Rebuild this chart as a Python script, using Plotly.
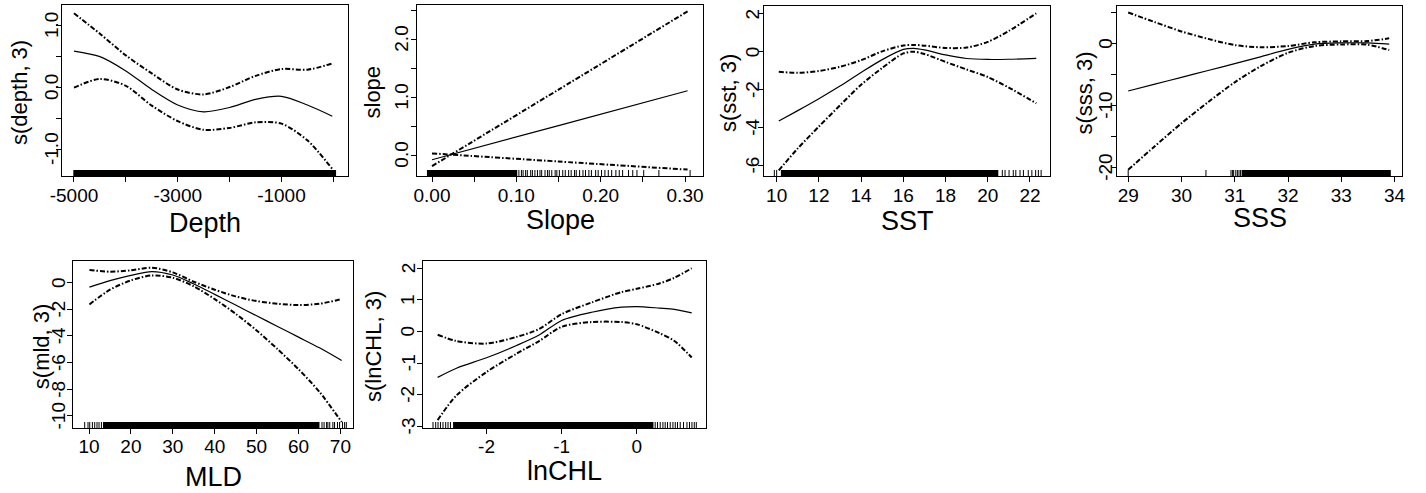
import plotly.graph_objects as go

W, H = 1426, 493

# ---------------- data ----------------
depth_x = [-5000, -4500, -4000, -3500, -3000, -2500, -2000, -1500, -1000, -500, -20]
depth_fit = [0.58, 0.49, 0.26, -0.04, -0.29, -0.40, -0.33, -0.20, -0.15, -0.29, -0.47]
depth_up = [1.19, 0.86, 0.51, 0.22, -0.04, -0.12, 0.00, 0.18, 0.29, 0.28, 0.38]
depth_lo = [-0.01, 0.13, 0.02, -0.30, -0.55, -0.69, -0.66, -0.57, -0.59, -0.86, -1.32]
depth_rug_bands = [[-5013, 53]]
depth_rug_ticks = []

slope_x = [0.0, 0.15, 0.303]
slope_fit = [-0.08, 0.51, 1.11]
slope_up = [-0.19, 1.13, 2.48]
slope_lo = [0.03, -0.11, -0.25]
slope_rug_bands = [[-0.006, 0.101]]
slope_rug_ticks = [0.103, 0.106, 0.108, 0.111, 0.113, 0.117, 0.119, 0.122, 0.125, 0.128,
                   0.130, 0.134, 0.137, 0.139, 0.142, 0.146, 0.148, 0.151, 0.155, 0.158,
                   0.162, 0.165, 0.169, 0.171, 0.175, 0.179, 0.182, 0.186, 0.189, 0.194,
                   0.197, 0.201, 0.205, 0.209, 0.213, 0.218, 0.222, 0.226, 0.233, 0.238,
                   0.243, 0.251, 0.269, 0.306]

sst_x = [10.1, 11, 12, 13, 14, 15, 16, 16.5, 17, 18, 19, 20, 21, 22.3]
sst_fit = [-3.67, -3.12, -2.49, -1.82, -1.10, -0.42, 0.12, 0.18, 0.10, -0.17, -0.36, -0.41, -0.40, -0.35]
sst_up = [-1.06, -1.12, -1.02, -0.80, -0.45, 0.02, 0.33, 0.36, 0.32, 0.20, 0.22, 0.52, 1.10, 2.03]
sst_lo = [-6.28, -5.12, -3.96, -2.84, -1.75, -0.86, -0.09, 0.00, -0.12, -0.54, -0.94, -1.34, -1.90, -2.73]
sst_rug_bands = [[10.2, 20.5]]
sst_rug_ticks = [9.89, 10.0, 20.69, 20.82, 21.01, 21.21, 21.33, 21.53, 21.69, 21.92, 22.09, 22.27, 22.40, 22.53]

sss_x = [29, 29.5, 30, 30.5, 31, 31.5, 32, 32.5, 33, 33.5, 33.9]
sss_fit = [-7.7, -6.6, -5.5, -4.4, -3.3, -2.15, -1.0, -0.15, 0.05, 0.05, -0.16]
sss_up = [4.95, 3.4, 1.9, 0.7, -0.3, -0.65, -0.45, 0.15, 0.3, 0.35, 0.8]
sss_lo = [-20.4, -16.6, -12.9, -9.5, -6.3, -3.65, -1.55, -0.45, -0.2, -0.25, -1.1]
sss_rug_bands = [[31.13, 33.93]]
sss_rug_ticks = [29.0, 30.46, 30.93, 30.96, 30.98, 31.02, 31.05, 31.08, 31.11]

mld_x = [10.1, 15, 20, 25, 30, 35, 40, 45, 50, 55, 60, 65, 70.3]
mld_fit = [-0.36, 0.13, 0.53, 0.81, 0.55, -0.12, -0.90, -1.70, -2.50, -3.30, -4.10, -4.90, -5.85]
mld_up = [0.93, 0.80, 0.90, 1.10, 0.75, 0.05, -0.55, -1.05, -1.40, -1.60, -1.70, -1.60, -1.25]
mld_lo = [-1.65, -0.55, 0.15, 0.52, 0.35, -0.30, -1.25, -2.35, -3.60, -5.00, -6.50, -8.20, -10.45]
mld_rug_bands = [[13.34, 65.0]]
mld_rug_ticks = [8.97, 9.76, 10.17, 10.81, 11.36, 11.91, 12.39, 12.96, 65.6, 66.1, 66.7, 67.0,
                 67.45, 68.2, 68.6, 69.3, 69.8, 70.5, 71.0, 71.4]

chl_x = [-2.65, -2.4, -2.0, -1.6, -1.3, -1.0, -0.6, -0.2, 0.0, 0.3, 0.5, 0.73]
chl_fit = [-1.45, -1.16, -0.83, -0.44, -0.11, 0.35, 0.61, 0.77, 0.79, 0.74, 0.70, 0.59]
chl_up = [-0.10, -0.30, -0.38, -0.17, 0.08, 0.55, 0.92, 1.25, 1.35, 1.52, 1.70, 2.00]
chl_lo = [-2.80, -2.02, -1.28, -0.70, -0.30, 0.15, 0.30, 0.30, 0.23, -0.05, -0.30, -0.82]
chl_rug_bands = [[-2.445, 0.221]]
chl_rug_ticks = [-2.712, -2.676, -2.645, -2.613, -2.579, -2.543, -2.512, -2.48,
                 0.244, 0.275, 0.311, 0.347, 0.377, 0.408, 0.444, 0.480, 0.511, 0.541,
                 0.577, 0.621, 0.667, 0.701, 0.733, 0.764, 0.791]

x_titles = ["Depth", "Slope", "SST", "SSS", "MLD", "lnCHL"]
y_titles = ["s(depth, 3)", "slope", "s(sst, 3)", "s(sss, 3)", "s(mld, 3)", "s(lnCHL, 3)"]

depth_xticks = [-5000, -4000, -3000, -2000, -1000, 0]
depth_xlabels = ["-5000", "", "-3000", "", "-1000", ""]
depth_yticks = [-1.0, -0.5, 0.0, 0.5, 1.0]
depth_ylabels = ["-1.0", "", "0.0", "", "1.0"]
slope_xticks = [0.0, 0.05, 0.10, 0.15, 0.20, 0.25, 0.30]
slope_xlabels = ["0.00", "", "0.10", "", "0.20", "", "0.30"]
slope_yticks = [0.0, 0.5, 1.0, 1.5, 2.0, 2.5]
slope_ylabels = ["0.0", "", "1.0", "", "2.0", ""]
sst_xticks = [10, 12, 14, 16, 18, 20, 22]
sst_xlabels = ["10", "12", "14", "16", "18", "20", "22"]
sst_yticks = [-6, -4, -2, 0, 2]
sst_ylabels = ["-6", "-4", "-2", "0", "2"]
sss_xticks = [29, 30, 31, 32, 33, 34]
sss_xlabels = ["29", "30", "31", "32", "33", "34"]
sss_yticks = [-20, -15, -10, -5, 0, 5]
sss_ylabels = ["-20", "", "-10", "", "0", ""]
mld_xticks = [10, 20, 30, 40, 50, 60, 70]
mld_xlabels = ["10", "20", "30", "40", "50", "60", "70"]
mld_yticks = [-10, -8, -6, -4, -2, 0]
mld_ylabels = ["-10", "-8", "-6", "-4", "-2", "0"]
chl_xticks = [-2, -1, 0]
chl_xlabels = ["-2", "-1", "0"]
chl_yticks = [-3, -2, -1, 0, 1, 2]
chl_ylabels = ["-3", "-2", "-1", "0", "1", "2"]

# ---------------- layout settings ----------------
FONT = "Liberation Sans, Arial, sans-serif"
TICK_FS = 19
XT_FS = 27
YT_FS = 22
CI_DASH = "5px,2px,1.5px,2px"

panels = [
    dict(x=depth_x, fit=depth_fit, up=depth_up, lo=depth_lo, bands=depth_rug_bands, ticks=depth_rug_ticks,
         xt=(depth_xticks, depth_xlabels), yt=(depth_yticks, depth_ylabels),
         box=(62, 348, 5, 176), xr=[-5231, 283], yr=[-1.435, 1.323], xtitle_y=232, ytitle_x=19.5,
         ylab_x=50, xsoff=-3),
    dict(x=slope_x, fit=slope_fit, up=slope_up, lo=slope_lo, bands=slope_rug_bands, ticks=slope_rug_ticks,
         xt=(slope_xticks, slope_xlabels), yt=(slope_yticks, slope_ylabels),
         box=(417, 703, 5, 176), xr=[-0.0178, 0.3213], yr=[-0.36, 2.59], xtitle_y=229.5, ytitle_x=372,
         ylab_x=400.5, xsoff=-3),
    dict(x=sst_x, fit=sst_fit, up=sst_up, lo=sst_lo, bands=sst_rug_bands, ticks=sst_rug_ticks,
         xt=(sst_xticks, sst_xlabels), yt=(sst_yticks, sst_ylabels),
         box=(764, 1050, 6, 176), xr=[9.40, 22.95], yr=[-6.58, 2.42], xtitle_y=230, ytitle_x=728,
         ylab_x=751.5, xsoff=-3),
    dict(x=sss_x, fit=sss_fit, up=sss_up, lo=sss_lo, bands=sss_rug_bands, ticks=sss_rug_ticks,
         xt=(sss_xticks, sss_xlabels), yt=(sss_yticks, sss_ylabels),
         box=(1117, 1402, 6, 176), xr=[28.79, 34.14], yr=[-21.4, 6.0], xtitle_y=227, ytitle_x=1083.5,
         ylab_x=1104.5, xsoff=-3),
    dict(x=mld_x, fit=mld_fit, up=mld_up, lo=mld_lo, bands=mld_rug_bands, ticks=mld_rug_ticks,
         xt=(mld_xticks, mld_xlabels), yt=(mld_yticks, mld_ylabels),
         box=(73, 353, 261, 428), xr=[6.18, 73.0], yr=[-10.9, 1.6], xtitle_y=486.5, ytitle_x=41.7,
         ylab_x=57.5, xsoff=-4),
    dict(x=chl_x, fit=chl_fit, up=chl_up, lo=chl_lo, bands=chl_rug_bands, ticks=chl_rug_ticks,
         xt=(chl_xticks, chl_xlabels), yt=(chl_yticks, chl_ylabels),
         box=(423, 706, 261, 428), xr=[-2.845, 0.92], yr=[-3.05, 2.23], xtitle_y=480, ytitle_x=373.5,
         ylab_x=407, xsoff=-4),
]

fig = go.Figure()
layout = dict(width=W, height=H, margin=dict(l=0, r=0, t=0, b=0),
              paper_bgcolor="white", plot_bgcolor="white", showlegend=False,
              font=dict(family=FONT, color="black", size=TICK_FS))
shapes = []
annotations = []

for i, p in enumerate(panels):
    n = i + 1
    xa = "x" if n == 1 else f"x{n}"
    ya = "y" if n == 1 else f"y{n}"
    L, R, T, B = p["box"]
    common = dict(showline=True, mirror=True, linecolor="black", linewidth=1,
                  ticks="outside", ticklen=5, tickwidth=1, tickcolor="black",
                  showgrid=False, zeroline=False, tickmode="array", automargin=False,
                  tickfont=dict(family=FONT, size=TICK_FS, color="black"))
    xaxis = dict(common)
    xaxis.update(domain=[L / W, R / W], range=p["xr"], anchor=ya,
                 tickvals=p["xt"][0], ticktext=p["xt"][1], ticklabelstandoff=p["xsoff"])
    yaxis = dict(common)
    yaxis.update(domain=[1 - B / H, 1 - T / H], range=p["yr"], anchor=xa,
                 tickvals=p["yt"][0], ticktext=p["yt"][1], showticklabels=False)
    layout["xaxis" if n == 1 else f"xaxis{n}"] = xaxis
    layout["yaxis" if n == 1 else f"yaxis{n}"] = yaxis

    for key, dash, wid in (("up", CI_DASH, 2.0), ("lo", CI_DASH, 2.0), ("fit", "solid", 1.2)):
        fig.add_trace(go.Scatter(x=p["x"], y=p[key], mode="lines", xaxis=xa, yaxis=ya,
                                 line=dict(color="black", width=wid, dash=dash, shape="spline", smoothing=0.8),
                                 hoverinfo="skip"))

    rug_h = 6.0 / (B - T)
    yref = f"{ya} domain"
    for b0, b1 in p["bands"]:
        shapes.append(dict(type="rect", xref=xa, yref=yref, x0=b0, x1=b1, y0=0, y1=rug_h,
                           fillcolor="black", line=dict(width=0)))
    for t in p["ticks"]:
        shapes.append(dict(type="line", xref=xa, yref=yref, x0=t, x1=t, y0=0, y1=rug_h,
                           line=dict(color="black", width=1)))

    # rotated y tick labels (R style, parallel to the axis)
    for v, txt in zip(p["yt"][0], p["yt"][1]):
        if txt:
            annotations.append(dict(text=txt, xref="paper", yref=ya, x=(p["ylab_x"] + 1) / W, y=v,
                                    textangle=-90, xanchor="center", yanchor="middle",
                                    showarrow=False,
                                    font=dict(family=FONT, size=TICK_FS, color="black")))

    annotations.append(dict(text=x_titles[i], xref="paper", yref="paper",
                            x=(L + R) / 2 / W, y=1 - (p["xtitle_y"] - 0.35 * XT_FS) / H,
                            xanchor="center", yanchor="middle", showarrow=False,
                            font=dict(family=FONT, size=XT_FS, color="black")))
    annotations.append(dict(text=y_titles[i], xref="paper", yref="paper",
                            x=p["ytitle_x"] / W, y=1 - ((T + B) / 2 + 2) / H, textangle=-90,
                            xanchor="center", yanchor="middle", showarrow=False,
                            font=dict(family=FONT, size=YT_FS, color="black")))

layout["shapes"] = shapes
layout["annotations"] = annotations
fig.update_layout(**layout)
fig.write_html("out.html", config={"displayModeBar": False},
               post_script="document.body.style.margin='0';document.body.style.padding='0';")
